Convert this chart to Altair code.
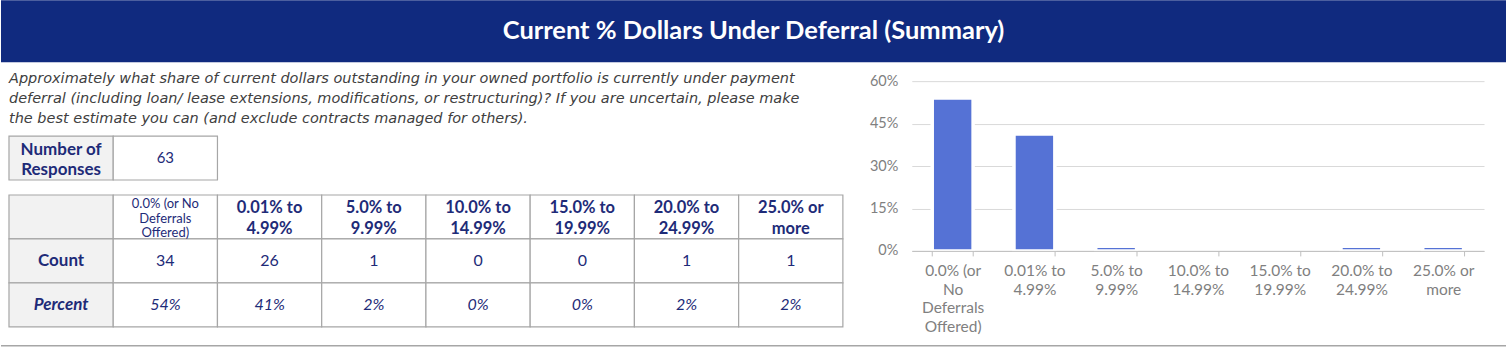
import altair as alt
import pandas as pd

# ---------------- data ----------------
title_text = ["Current % Dollars Under Deferral (Summary)"]
question_lines = [
    "Approximately what share of current dollars outstanding in your owned portfolio is currently under payment",
    "deferral (including loan/ lease extensions, modifications, or restructuring)? If you are uncertain, please make",
    "the best estimate you can (and exclude contracts managed for others).",
]
responses_label = ["Number of|Responses"]
responses_total = ["63"]

table_headers = [
    "0.0% (or No|Deferrals|Offered)", "0.01% to|4.99%", "5.0% to|9.99%", "10.0% to|14.99%",
    "15.0% to|19.99%", "20.0% to|24.99%", "25.0% or|more",
]
axis_labels = [
    "0.0% (or|No|Deferrals|Offered)", "0.01% to|4.99%", "5.0% to|9.99%", "10.0% to|14.99%",
    "15.0% to|19.99%", "20.0% to|24.99%", "25.0% or|more",
]
row_names = ["Count", "Percent"]
counts = [34, 26, 1, 0, 0, 1, 1]
shares = [0.54, 0.413, 0.016, 0.0, 0.0, 0.016, 0.016]
y_ticks = [0, 0.15, 0.30, 0.45, 0.60]

# ---------------- style ----------------
FONT = "Lato"
BANNER = "#102A7F"
NAVY = "#1E2B78"
BORDER = "#A6A6A6"
CELL_GRAY = "#F2F2F2"
BAR = "#5572D5"
AXIS_TXT = "#808080"
GRID = "#D9D9D9"

# ---------------- banner ----------------
banner = alt.Chart(pd.DataFrame({"t": title_text})).mark_text(
    font=FONT, fontSize=25.5, fontWeight="bold", color="white", align="center", baseline="middle"
).encode(
    x=alt.value(753.5), y=alt.value(31), text="t:N"
).properties(width=1507, height=62, view=alt.ViewBackground(fill=BANNER, strokeWidth=0))

# ---------------- left panel (question + tables) ----------------
ROWCOL = " "
col_domain = [ROWCOL] + table_headers
tx = alt.Scale(domain=col_domain, range=[8, 843], paddingInner=0, paddingOuter=0)
ty_table = alt.Scale(domain=["header"] + row_names, range=[133, 265], paddingInner=0, paddingOuter=0)
ty_box = alt.Scale(domain=["responses"], range=[74, 118], paddingInner=0, paddingOuter=0)

recs = []
recs.append({"col": ROWCOL, "row": "header", "text": "", "style": "none"})
for i, h in enumerate(table_headers):
    recs.append({"col": h, "row": "header", "text": h, "style": "head_small" if i == 0 else "head"})
recs.append({"col": ROWCOL, "row": "Count", "text": "Count", "style": "rowlab"})
recs.append({"col": ROWCOL, "row": "Percent", "text": "Percent", "style": "rowlab_it"})
for h, c, s in zip(table_headers, counts, shares):
    recs.append({"col": h, "row": "Count", "text": str(c), "style": "count", "share": s})
    recs.append({"col": h, "row": "Percent", "text": "", "style": "pct", "share": s})
table_df = pd.DataFrame(recs)

box_df = pd.DataFrame([
    {"col": ROWCOL, "row": "responses", "text": responses_label[0], "style": "box_label"},
    {"col": table_headers[0], "row": "responses", "text": responses_total[0], "style": "box_value"},
])

fill_cond = alt.condition(alt.datum.col == ROWCOL, alt.value(CELL_GRAY), alt.value("white"))


def cells(df, ys):
    return alt.Chart(df).mark_rect(stroke=BORDER, strokeWidth=1.2).encode(
        x=alt.X("col:N", scale=tx, axis=None),
        y=alt.Y("row:N", scale=ys, axis=None),
        fill=fill_cond,
    )


def txt(df, ys, style, **mk):
    return alt.Chart(df).transform_filter(alt.datum.style == style).mark_text(
        font=FONT, color=NAVY, lineBreak="|", align="center", baseline="middle", **mk
    ).encode(
        x=alt.X("col:N", scale=tx, axis=None),
        y=alt.Y("row:N", scale=ys, axis=None),
        text="text:N",
    )


pct_layer = alt.Chart(table_df).transform_filter(alt.datum.style == "pct").transform_calculate(
    lbl="format(datum.share, '.0%')"
).mark_text(font=FONT, color=NAVY, fontSize=16, fontStyle="italic", align="center", baseline="middle").encode(
    x=alt.X("col:N", scale=tx, axis=None),
    y=alt.Y("row:N", scale=ty_table, axis=None),
    text="lbl:N",
)

question = alt.Chart(pd.DataFrame({"q": ["\n".join(question_lines)]})).mark_text(
    font="DejaVu Sans", fontSize=14.5, fontStyle="italic", color="#404040", align="left", baseline="top",
    lineBreak="\n", lineHeight=20,
).encode(x=alt.value(8), y=alt.value(10), text="q:N")

bottom_rule = alt.Chart(pd.DataFrame({"a": [0]})).mark_rule(color=BORDER, strokeWidth=1.5).encode(
    x=alt.value(0), x2=alt.value(1507), y=alt.value(284)
)

left = alt.layer(
    question,
    cells(box_df, ty_box),
    txt(box_df, ty_box, "box_label", fontSize=17, fontWeight="bold", lineHeight=21, dy=-8.5),
    txt(box_df, ty_box, "box_value", fontSize=15),
    cells(table_df, ty_table),
    txt(table_df, ty_table, "head_small", fontSize=13, lineHeight=14.5, dy=-12.5),
    txt(table_df, ty_table, "head", fontSize=16.5, fontWeight="bold", lineHeight=21.5, dy=-9),
    txt(table_df, ty_table, "rowlab", fontSize=17, fontWeight="bold"),
    txt(table_df, ty_table, "rowlab_it", fontSize=17, fontWeight="bold", fontStyle="italic"),
    txt(table_df, ty_table, "count", fontSize=16),
    pct_layer,
    bottom_rule,
).resolve_scale(y="independent").properties(width=912, height=292)

# ---------------- right panel (bar chart) ----------------
bars_df = pd.DataFrame({"label": axis_labels, "share": shares})

bars = alt.Chart(bars_df).transform_filter(alt.datum.share > 0).mark_bar(
    color=BAR, stroke="white", strokeWidth=3.5
).encode(
    x=alt.X(
        "label:N", sort=axis_labels, title=None,
        scale=alt.Scale(domain=axis_labels, paddingInner=0.5, paddingOuter=0.25),
        axis=alt.Axis(
            labelExpr="isValid(datum.value) ? split(datum.value, '|') : ''",
            labelAngle=0, tickBand="extent", tickSize=5,
            tickColor="#BFBFBF", domainColor="#BFBFBF", labelColor=AXIS_TXT, labelFont=FONT,
            labelFontSize=15.5, labelLineHeight=18.5, labelPadding=8, labelLimit=200, grid=False,
            zindex=1,
        ),
    ),
    y=alt.Y(
        "share:Q", title=None,
        scale=alt.Scale(domain=[0, 0.6], range=[189, 19], nice=False, zero=True),
        axis=alt.Axis(
            values=y_ticks, format=".0%", domain=False, ticks=False, grid=True, gridColor=GRID,
            gridWidth=1, labelColor=AXIS_TXT, labelFont=FONT, labelFontSize=14.5, labelPadding=14,
        ),
    ),
).properties(width=573, height=189)

row = alt.hconcat(left, bars, spacing=0, bounds="flush")
chart = alt.vconcat(banner, row, spacing=0, bounds="flush").properties(padding=0).configure_view(
    strokeWidth=0
)

chart.save("out.html", embed_options={"renderer": "svg", "actions": False})
